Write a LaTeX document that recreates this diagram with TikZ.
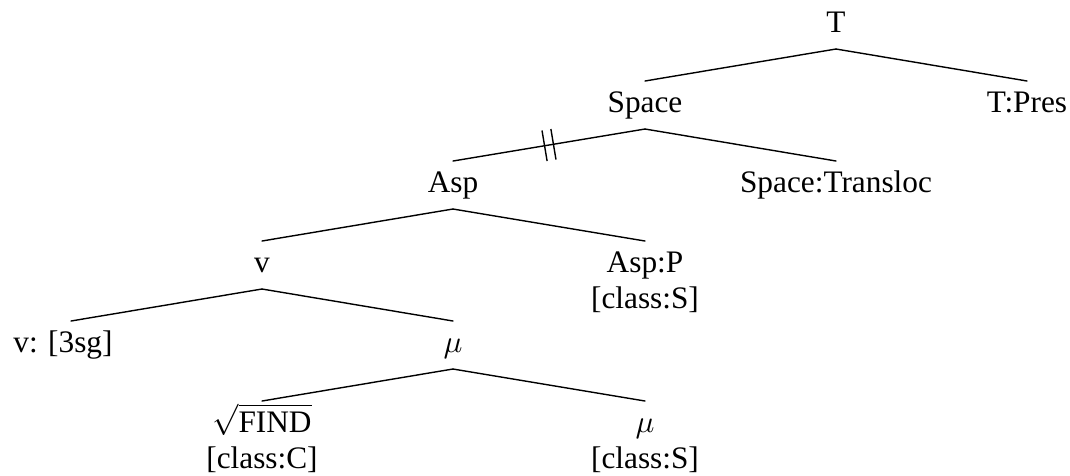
\documentclass[tikz,border=0pt]{standalone}
\usepackage{graphicx}
\usepackage{fontspec}
\setmainfont{Liberation Serif}
\newcommand{\bigmu}{\scalebox{3.13}{\fontsize{10}{12}\selectfont$\mu$}}
\newcommand{\bigfind}{\scalebox{3.13}{\fontsize{10}{12}\selectfont$\sqrt{\mbox{FIND}}$}}
\begin{document}
\begin{tikzpicture}[x=1pt,y=-1pt,
  lbl/.style={inner sep=0pt, outer sep=0pt, anchor=base, text height=31pt, text depth=17pt,
    font=\fontsize{31.3}{36}\selectfont},
  lbltwo/.style={inner sep=0pt, outer sep=0pt, anchor=base,
    font=\fontsize{31.3}{36}\selectfont},
  edge/.style={line width=1.4pt, line cap=round},
  tick/.style={line width=1.4pt}]
\useasboundingbox (0,0) rectangle (1070,475);
% level 0
\node[lbl] (T) at (836,32) {T};
% level 1
\node[lbl] (Sp) at (645,112) {Space};
\node[lbl] (TP) at (1027,112) {T:Pres};
% level 2
\node[lbl] (Asp) at (453,192) {Asp};
\node[lbl] (SpT) at (836,192) {Space:Transloc};
% level 3
\node[lbl] (v) at (262,272) {v};
\node[lbl] (AspP) at (645,272) {Asp:P};
\node[lbltwo] (AspPc) at (645,308) {[class:S]};
% level 4
\node[lbl] (vsg) at (63,352) {v: [3sg]};
\node[lbl] (mu) at (453,352) {\bigmu};
% level 5
\node[lbl] (find) at (262,432) {\bigfind};
\node[lbltwo] (findc) at (262,468) {[class:C]};
\node[lbl] (mub) at (645,432) {\bigmu};
\node[lbltwo] (mubc) at (645,468) {[class:S]};
% edges
\draw[edge] (T.south) -- (Sp.north);
\draw[edge] (T.south) -- (TP.north);
\draw[edge] (Sp.south) -- (Asp.north);
\draw[edge] (Sp.south) -- (SpT.north);
\draw[edge] (Asp.south) -- (v.north);
\draw[edge] (Asp.south) -- (AspP.north);
\draw[edge] (v.south) -- ([xshift=8pt]vsg.north);
\draw[edge] (v.south) -- (mu.north);
\draw[edge] (mu.south) -- (find.north);
\draw[edge] (mu.south) -- (mub.north);
% double slash on Space--Asp
\path (Sp.south) -- (Asp.north) node[pos=0.5, sloped, minimum width=9pt, minimum height=31pt, inner sep=0pt, outer sep=0pt] (dbl) {};
\draw[tick] (dbl.north west) -- (dbl.south west);
\draw[tick] (dbl.north east) -- (dbl.south east);
\end{tikzpicture}
\end{document}
